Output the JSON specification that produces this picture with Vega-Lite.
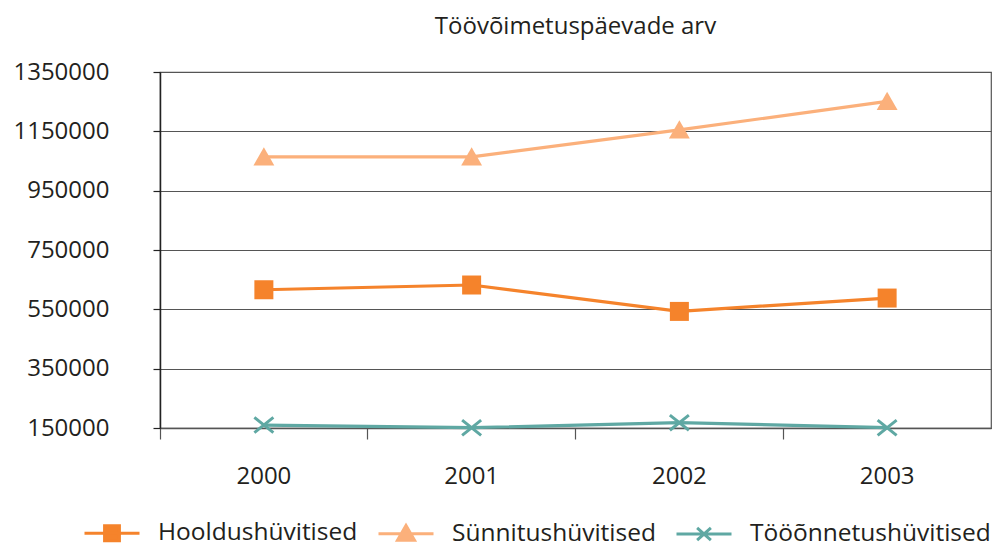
{
  "$schema": "https://vega.github.io/schema/vega-lite/v6.json",
  "autosize": "none",
  "width": 831,
  "height": 356,
  "padding": {"left": 160, "top": 72, "right": 4, "bottom": 118},
  "background": "white",
  "config": {
    "font": "Open Sans",
    "view": {"stroke": "#555555", "strokeWidth": 1.2}
  },
  "title": {
    "text": "Töövõimetuspäevade arv",
    "font": "Open Sans",
    "fontSize": 24,
    "fontWeight": "normal",
    "color": "#231f20",
    "anchor": "middle",
    "frame": "group",
    "baseline": "alphabetic",
    "offset": 2
  },
  "data": {
    "values": [
      {"year": "2000", "series": "Hooldushüvitised", "value": 616000},
      {"year": "2001", "series": "Hooldushüvitised", "value": 632000},
      {"year": "2002", "series": "Hooldushüvitised", "value": 543000},
      {"year": "2003", "series": "Hooldushüvitised", "value": 588000},
      {"year": "2000", "series": "Sünnitushüvitised", "value": 1064000},
      {"year": "2001", "series": "Sünnitushüvitised", "value": 1064000},
      {"year": "2002", "series": "Sünnitushüvitised", "value": 1155000},
      {"year": "2003", "series": "Sünnitushüvitised", "value": 1251000},
      {"year": "2000", "series": "Tööõnnetushüvitised", "value": 160000},
      {"year": "2001", "series": "Tööõnnetushüvitised", "value": 151000},
      {"year": "2002", "series": "Tööõnnetushüvitised", "value": 168000},
      {"year": "2003", "series": "Tööõnnetushüvitised", "value": 151000}
    ]
  },
  "encoding": {
    "x": {
      "field": "year",
      "type": "ordinal",
      "scale": {"type": "band", "paddingInner": 0, "paddingOuter": 0},
      "axis": {
        "title": null,
        "labelAngle": 0,
        "bandPosition": 0,
        "labelFont": "Open Sans",
        "labelFontSize": 24,
        "labelColor": "#231f20",
        "labelPadding": 25,
        "tickSize": 11,
        "tickColor": "#555555",
        "tickWidth": 1.2,
        "domainColor": "#555555",
        "domainWidth": 1.5,
        "grid": false
      }
    },
    "y": {
      "field": "value",
      "type": "quantitative",
      "scale": {"domain": [150000, 1350000], "nice": false, "zero": false},
      "axis": {
        "title": null,
        "values": [150000, 350000, 550000, 750000, 950000, 1150000, 1350000],
        "format": "d",
        "labelFont": "Open Sans",
        "labelFontSize": 24,
        "labelColor": "#231f20",
        "labelPadding": 44,
        "tickSize": 7,
        "tickColor": "#222222",
        "tickWidth": 1.2,
        "domainColor": "#222222",
        "domainWidth": 1.5,
        "grid": true,
        "gridColor": "#555555",
        "gridWidth": 1.2
      }
    }
  },
  "layer": [
    {
      "mark": {"type": "line", "strokeWidth": 3.2},
      "encoding": {
        "color": {
          "field": "series",
          "type": "nominal",
          "scale": {
            "domain": ["Hooldushüvitised", "Sünnitushüvitised", "Tööõnnetushüvitised"],
            "range": ["#F5832B", "#FBB07B", "#5FA8A3"]
          },
          "legend": {
            "title": null,
            "orient": "none",
            "direction": "horizontal",
            "legendX": -77,
            "legendY": 432,
            "padding": 0,
            "symbolSize": 3025,
            "symbolStrokeWidth": 3,
            "labelFont": "Open Sans",
            "labelFontSize": 24.5,
            "labelColor": "#231f20",
            "labelLimit": 400,
            "labelOffset": 17,
            "columnPadding": 14,
            "encode": {
              "symbols": {
                "update": {
                  "shape": {"signal": "datum.value == 'Hooldushüvitised' ? 'M-1,0H1M-0.27,-0.27H0.27V0.27H-0.27Z' : datum.value == 'Sünnitushüvitised' ? 'M-1,0H1M0,-0.3L0.31,0.24H-0.31Z' : 'M-1,0H1M-0.25,-0.22L0.25,0.22M-0.25,0.22L0.25,-0.22'"},
                  "fill": {"signal": "datum.value == 'Hooldushüvitised' ? '#F5832B' : datum.value == 'Sünnitushüvitised' ? '#FBB07B' : 'transparent'"},
                  "stroke": {"signal": "datum.value == 'Hooldushüvitised' ? '#F5832B' : datum.value == 'Sünnitushüvitised' ? '#FBB07B' : '#5FA8A3'"},
                  "strokeWidth": {"value": 3},
                  "opacity": {"value": 1}
                }
              }
            }
          }
        }
      }
    },
    {
      "transform": [{"filter": "datum.series == 'Hooldushüvitised'"}],
      "mark": {"type": "point", "filled": true, "opacity": 1, "shape": "square", "size": 361, "color": "#F5832B"}
    },
    {
      "transform": [{"filter": "datum.series == 'Sünnitushüvitised'"}],
      "mark": {"type": "point", "filled": true, "opacity": 1, "shape": "M0,-1L1.1,0.9H-1.1Z", "size": 361, "color": "#FBB07B"}
    },
    {
      "transform": [{"filter": "datum.series == 'Tööõnnetushüvitised'"}],
      "mark": {"type": "point", "filled": false, "opacity": 1, "shape": "M-1,-0.8L1,0.8M-1,0.8L1,-0.8", "size": 361, "strokeWidth": 3, "color": "#5FA8A3"}
    }
  ]
}
